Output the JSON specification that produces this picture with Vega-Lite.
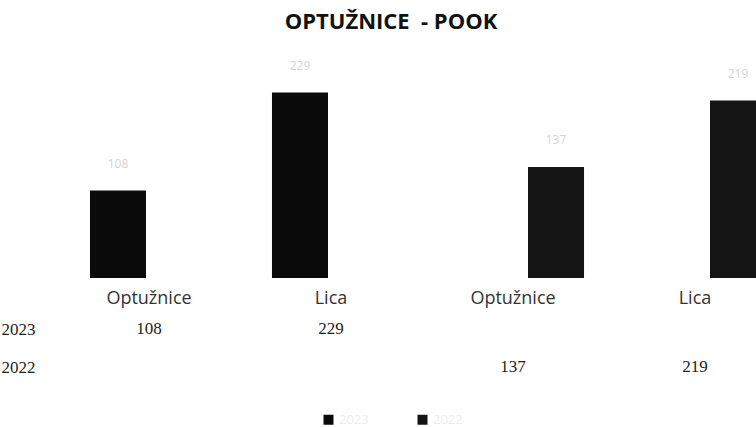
{
  "$schema": "https://vega.github.io/schema/vega-lite/v6.json",
  "autosize": "none",
  "padding": {"left": 0, "top": 45, "right": 0, "bottom": 0},
  "width": 756,
  "height": 382,
  "background": "white",
  "title": {
    "text": "OPTUŽNICE \u00a0- POOK",
    "font": "Open Sans",
    "fontSize": 22,
    "fontWeight": "bold",
    "color": "#111",
    "anchor": "middle",
    "baseline": "alphabetic",
    "offset": -6,
    "dx": 13
  },
  "config": {"view": {"stroke": null}},
  "data": {
    "values": [
      {"id": "1|Optužnice", "kat": "Optužnice", "god": "2023", "v": 108},
      {"id": "2|Lica", "kat": "Lica", "god": "2023", "v": 229},
      {"id": "3|Optužnice", "kat": "Optužnice", "god": "2022", "v": 137},
      {"id": "4|Lica", "kat": "Lica", "god": "2022", "v": 219}
    ]
  },
  "encoding": {
    "x": {
      "field": "id",
      "type": "nominal",
      "sort": null,
      "scale": {"range": [64, 792], "paddingInner": 0, "paddingOuter": 0},
      "axis": {
        "title": null,
        "labelExpr": "split(datum.label, '|')[1]",
        "labelAngle": 0,
        "labelFont": "Open Sans",
        "labelFontSize": 18,
        "labelColor": "#333",
        "labelBaseline": "middle",
        "labelPadding": 0,
        "ticks": false,
        "domain": false,
        "grid": false,
        "offset": -129,
        "labelOffset": -6
      }
    }
  },
  "layer": [
    {
      "mark": {"type": "bar", "clip": true},
      "encoding": {
        "xOffset": {
          "field": "god",
          "type": "nominal",
          "scale": {"domain": ["2023", "2022"], "paddingInner": 0.243, "paddingOuter": 0.351}
        },
        "y": {
          "field": "v",
          "type": "quantitative",
          "scale": {"domain": [0, 250], "range": [233, 30.5], "nice": false},
          "axis": null
        },
        "color": {
          "field": "god",
          "type": "nominal",
          "scale": {"domain": ["2023", "2022"], "range": ["#0a0a0a", "#141414"]},
          "legend": {
            "title": null,
            "orient": "none",
            "direction": "horizontal",
            "legendX": 322,
            "legendY": 368,
            "symbolType": "square",
            "symbolSize": 100,
            "symbolStrokeWidth": 0,
            "labelFont": "Open Sans",
            "labelFontSize": 13,
            "labelColor": "#ececec",
            "columnPadding": 47
          }
        }
      }
    },
    {
      "mark": {"type": "text", "font": "Open Sans", "fontSize": 12, "color": "#d4d4d4", "baseline": "bottom", "dy": -20},
      "encoding": {
        "xOffset": {
          "field": "god",
          "type": "nominal",
          "scale": {"domain": ["2023", "2022"], "paddingInner": 0.243, "paddingOuter": 0.351}
        },
        "y": {
          "field": "v",
          "type": "quantitative",
          "scale": {"domain": [0, 250], "range": [233, 30.5], "nice": false},
          "axis": null
        },
        "text": {"field": "v", "type": "quantitative"}
      }
    },
    {
      "mark": {"type": "text", "font": "Liberation Serif", "fontSize": 17, "color": "#222", "baseline": "middle", "dx": -6},
      "encoding": {
        "y": {
          "field": "god",
          "type": "nominal",
          "scale": {"domain": ["2023", "2022"], "range": [265, 341], "paddingInner": 0, "paddingOuter": 0},
          "axis": {
            "title": null,
            "orient": "left",
            "ticks": false,
            "domain": false,
            "grid": false,
            "labelAlign": "left",
            "labelPadding": -1,
            "labelFont": "Liberation Serif",
            "labelFontSize": 17,
            "labelColor": "#222"
          }
        },
        "text": {"field": "v", "type": "quantitative"}
      }
    }
  ],
  "resolve": {"scale": {"y": "independent"}, "axis": {"y": "independent"}}
}
